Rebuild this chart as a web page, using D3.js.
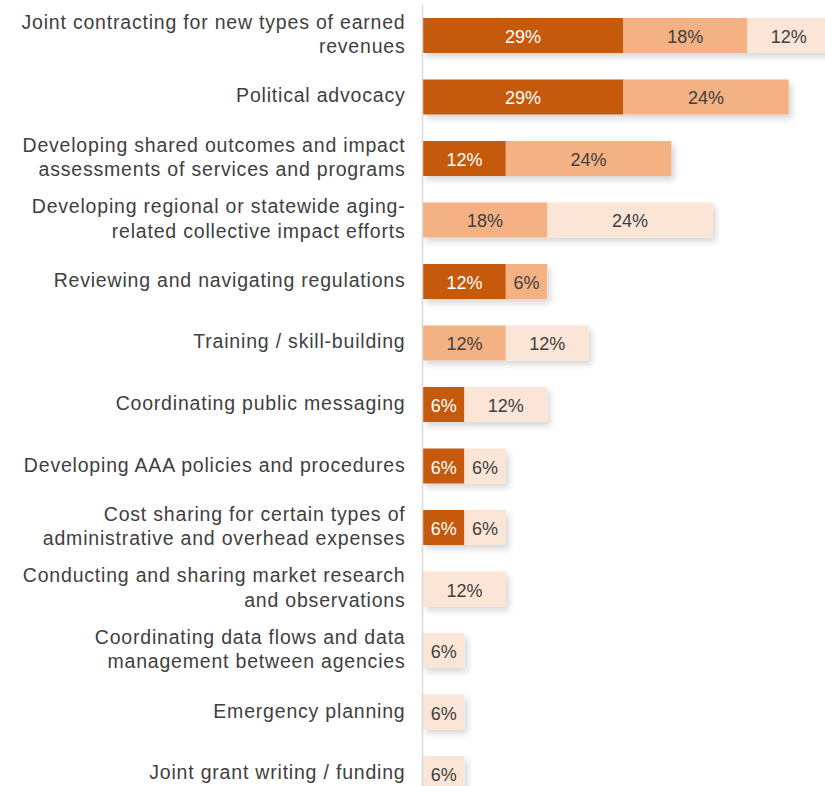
<!DOCTYPE html>
<html>
<head>
<meta charset="utf-8">
<script src="https://cdn.jsdelivr.net/npm/d3@7"></script>
<style>
  html, body { margin: 0; padding: 0; background: #ffffff; }
  svg { display: block; font-family: "Liberation Sans", Arial, sans-serif; }
</style>
</head>
<body>
<svg id="chart" width="825" height="786"></svg>
<script>
// Activity categories (line breaks mark where the label wraps)
const categories = [
  "Joint contracting for new types of earned\nrevenues",
  "Political advocacy",
  "Developing shared outcomes and impact\nassessments of services and programs",
  "Developing regional or statewide aging-\nrelated collective impact efforts",
  "Reviewing and navigating regulations",
  "Training / skill-building",
  "Coordinating public messaging",
  "Developing AAA policies and procedures",
  "Cost sharing for certain types of\nadministrative and overhead expenses",
  "Conducting and sharing market research\nand observations",
  "Coordinating data flows and data\nmanagement between agencies",
  "Emergency planning",
  "Joint grant writing / funding"
];

// Percent of respondents in each of the three stacked groups
const seriesDark  = [29, 29, 12, 0, 12, 0, 6, 6, 6, 0, 0, 0, 0];
const seriesMid   = [18, 24, 24, 18, 6, 12, 0, 0, 0, 0, 0, 0, 0];
const seriesLight = [12, 0, 0, 24, 0, 12, 12, 6, 6, 12, 6, 6, 6];

const seriesKeys = ["dark", "mid", "light"];
const seriesColors = { dark: "#C55A11", mid: "#F4B183", light: "#FBE5D6" };
const labelColors = { dark: "#ffffff", mid: "#404040", light: "#404040" };

const rows = categories.map((c, i) => ({
  category: c,
  dark: seriesDark[i],
  mid: seriesMid[i],
  light: seriesLight[i]
}));

const svg = d3.select("#chart");
const x0 = 423;

const x = d3.scaleLinear().domain([0, 100]).range([x0, x0 + 690]);
const y = d3.scaleBand()
  .domain(categories)
  .range([4, 805])
  .paddingInner(0.431)
  .paddingOuter(0.2276);

const stack = d3.stack().keys(seriesKeys);
const stacked = stack(rows);

// soft drop shadow under each bar
const defs = svg.append("defs");
const f = defs.append("filter").attr("id", "shadow")
  .attr("x", "-10%").attr("y", "-30%").attr("width", "130%").attr("height", "180%");
f.append("feDropShadow")
  .attr("dx", 3).attr("dy", 4).attr("stdDeviation", 3)
  .attr("flood-color", "#000").attr("flood-opacity", 0.16);

// bars grouped per category so the shadow belongs to the whole bar
const barRows = svg.append("g").selectAll("g.row")
  .data(categories)
  .join("g")
  .attr("class", "row")
  .attr("filter", "url(#shadow)");

barRows.each(function (cat, i) {
  const g = d3.select(this);
  stacked.forEach(layer => {
    const d = layer[i];
    if (d[1] - d[0] <= 0) return;
    g.append("rect")
      .attr("x", x(d[0]))
      .attr("y", y(cat))
      .attr("width", x(d[1]) - x(d[0]))
      .attr("height", y.bandwidth())
      .attr("fill", seriesColors[layer.key]);
  });
});

// value labels centred in each segment
const valueG = svg.append("g");
stacked.forEach(layer => {
  layer.forEach((d, i) => {
    const v = d[1] - d[0];
    if (v <= 0) return;
    valueG.append("text")
      .attr("x", (x(d[0]) + x(d[1])) / 2)
      .attr("y", y(categories[i]) + y.bandwidth() / 2 + 7.5)
      .attr("text-anchor", "middle")
      .attr("font-size", 18)
      .attr("fill", labelColors[layer.key])
      .text(v + "%");
  });
});

// vertical axis line with wrapped category labels
const axis = d3.axisLeft(y).tickSize(0).tickFormat("");
const axisG = svg.append("g").attr("transform", `translate(${x0 - 1},0)`).call(axis);
axisG.select(".domain").attr("stroke", "#d9d9d9").attr("stroke-width", 1.5);

const labelG = svg.append("g");
categories.forEach(cat => {
  const lines = cat.split("\n");
  const cy = y(cat) + y.bandwidth() / 2;
  const lh = 24.3;
  const base = cy + 5.5 - (lines.length - 1) * lh / 2;
  const t = labelG.append("text")
    .attr("text-anchor", "end")
    .attr("font-size", 19.5)
    .attr("letter-spacing", "0.8px")
    .attr("fill", "#404040");
  lines.forEach((ln, k) => {
    t.append("tspan")
      .attr("x", 405.5)
      .attr("y", base + k * lh)
      .text(ln);
  });
});
</script>
</body>
</html>
